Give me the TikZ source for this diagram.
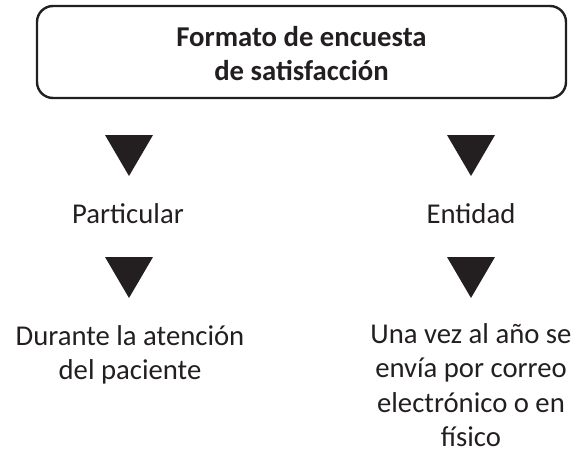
\documentclass[tikz,border=0pt]{standalone}
\usepackage{fontspec}
\setmainfont{Carlito}
\definecolor{ink}{HTML}{231F20}
\begin{document}
\begin{tikzpicture}[x=1pt,y=-1pt,
  txt/.style={inner sep=0pt, align=center, text=ink, font=\fontsize{28.7}{34.5}\selectfont, anchor=base},
  ttl/.style={txt, font=\fontsize{28.7}{34.5}\selectfont\bfseries},
  tri/.style={fill=ink, draw=none}]
\useasboundingbox (0,0) rectangle (576,451);
\draw[ink, line width=2.4pt, rounded corners=16pt] (37,6) rectangle (566,98);
\node[ttl] (title) at (301.5,80.5) {Formato de encuesta\\de satisfacción};
\fill[tri] (105,135) -- (153,135) -- (129,176) -- cycle;
\fill[tri] (447,135) -- (495,135) -- (471,176) -- cycle;
\node[txt] (part) at (128,223) {Particular};
\node[txt] (ent) at (471,223) {Entidad};
\fill[tri] (105,257) -- (153,257) -- (129,298) -- cycle;
\fill[tri] (447,257) -- (495,257) -- (471,298) -- cycle;
\node[txt] (dur) at (130,379.5) {Durante la atención\\del paciente};
\node[txt] (una) at (471,446.5) {Una vez al año se\\envía por correo\\electrónico o en\\físico};
\end{tikzpicture}
\end{document}
